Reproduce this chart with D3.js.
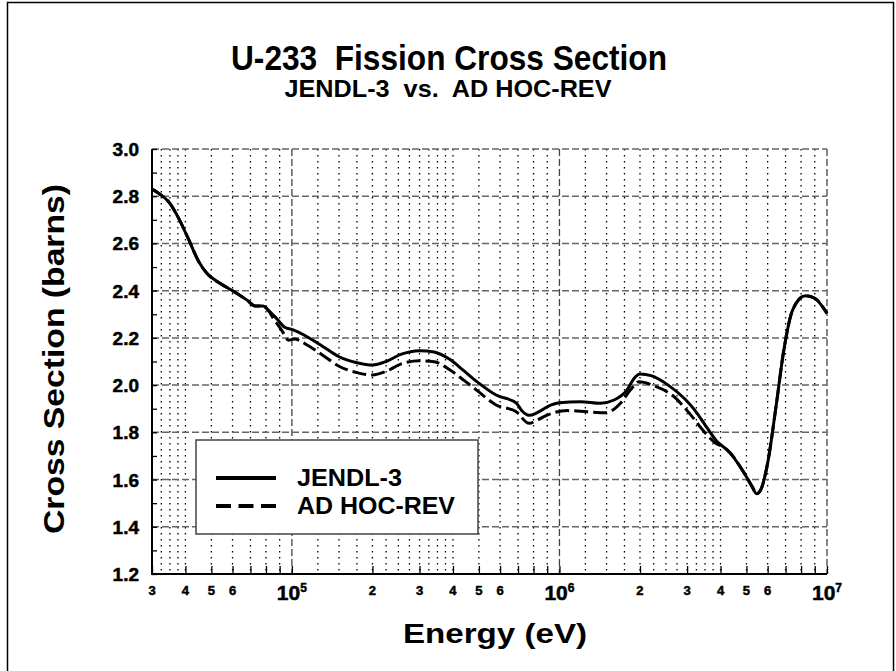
<!DOCTYPE html>
<html>
<head>
<meta charset="utf-8">
<script src="https://cdn.jsdelivr.net/npm/d3@7"></script>
<style>
  body { margin: 0; background: #fff; }
  text { font-family: "Liberation Sans", Arial, sans-serif; font-weight: bold; fill: #000; }
  .heavy { stroke: #000; stroke-width: 0.5; }
</style>
</head>
<body>
<div id="chart"></div>
<script>
// JENDL-3 (solid)
const jendlE = [3.0e4, 3.2e4, 3.5e4, 3.8e4, 4.1e4, 4.5e4, 4.8e4, 5.4e4, 6.0e4, 6.8e4, 7.3e4, 7.8e4, 8.15e4, 8.8e4, 9.4e4,
    1.0e5, 1.14e5, 1.3e5, 1.5e5, 1.75e5, 2.0e5, 2.25e5, 2.55e5, 3.0e5, 3.4e5, 3.9e5, 4.4e5, 4.9e5, 5.8e5, 6.9e5, 7.25e5, 7.7e5, 8.25e5, 9.0e5,
    1.0e6, 1.2e6, 1.42e6, 1.6e6, 1.79e6, 1.9e6, 2.0e6, 2.2e6, 2.55e6, 2.95e6, 3.2e6, 3.5e6, 3.85e6, 4.35e6, 4.9e6, 5.25e6, 5.45e6, 5.65e6,
    6.0e6, 6.45e6, 6.9e6, 7.45e6, 8.3e6, 9.0e6, 1.0e7];
const jendlXS = [2.83, 2.81, 2.77, 2.70, 2.62, 2.52, 2.475, 2.43, 2.40, 2.36, 2.335, 2.335, 2.318, 2.28, 2.245,
    2.236, 2.205, 2.165, 2.12, 2.095, 2.085, 2.10, 2.13, 2.146, 2.140, 2.108, 2.06, 2.016, 1.958, 1.924, 1.89, 1.872, 1.883, 1.908,
    1.925, 1.930, 1.923, 1.937, 1.98, 2.028, 2.047, 2.04, 2.00, 1.94, 1.895, 1.832, 1.766, 1.712, 1.628, 1.57, 1.54, 1.556,
    1.67, 1.91, 2.15, 2.32, 2.379, 2.368, 2.304];

// AD HOC-REV (dashed)
const adhocE = [3.0e4, 3.2e4, 3.5e4, 3.8e4, 4.1e4, 4.5e4, 4.8e4, 5.4e4, 6.0e4, 6.8e4, 7.3e4, 7.8e4, 8.15e4, 8.6e4, 9.0e4, 9.4e4, 9.7e4,
    1.02e5, 1.14e5, 1.3e5, 1.5e5, 1.75e5, 2.0e5, 2.25e5, 2.55e5, 3.0e5, 3.4e5, 3.9e5, 4.4e5, 4.9e5, 5.8e5, 6.9e5, 7.7e5, 8.25e5, 9.0e5,
    1.07e6, 1.27e6, 1.49e6, 1.69e6, 1.84e6, 1.98e6, 2.27e6, 2.68e6, 3.1e6, 3.47e6, 3.84e6, 4.1e6, 4.35e6, 4.9e6, 5.25e6, 5.45e6, 5.65e6,
    6.0e6, 6.45e6, 6.9e6, 7.45e6, 8.3e6, 9.0e6, 1.0e7];
const adhocXS = [2.83, 2.81, 2.77, 2.70, 2.62, 2.52, 2.475, 2.43, 2.40, 2.36, 2.335, 2.335, 2.318, 2.275, 2.245, 2.212, 2.19,
    2.195, 2.17, 2.128, 2.08, 2.053, 2.043, 2.058, 2.089, 2.103, 2.099, 2.064, 2.02, 1.979, 1.916, 1.887, 1.838, 1.852, 1.873,
    1.892, 1.887, 1.883, 1.923, 1.979, 2.014, 1.996, 1.951, 1.873, 1.803, 1.754, 1.738, 1.712, 1.628, 1.57, 1.54, 1.556,
    1.67, 1.91, 2.15, 2.32, 2.379, 2.368, 2.304];

const yTicks = [1.2, 1.4, 1.6, 1.8, 2.0, 2.2, 2.4, 2.6, 2.8, 3.0];
const decades = [1e5, 1e6, 1e7];
const digitTicks = [3e4, 4e4, 5e4, 6e4, 2e5, 3e5, 4e5, 5e5, 6e5, 2e6, 3e6, 4e6, 5e6, 6e6];
const gridSteps = [1.25, 1.5, 1.75, 2, 2.25, 2.5, 2.75, 3, 3.25, 3.5, 3.75, 4, 5, 6, 7, 8, 9];
const tickSteps = [2, 3, 4, 5, 6, 7, 8, 9];

const width = 896, height = 671;
const svg = d3.select("#chart").append("svg")
    .attr("width", width)
    .attr("height", height);

// outer frame
svg.append("path")
    .attr("d", "M7.5,671 V2.5 H893.5 V671")
    .attr("fill", "none")
    .attr("stroke", "#000")
    .attr("stroke-width", 1.5);

const x = d3.scaleLog().domain([3e4, 1e7]).range([152, 827]);
const y = d3.scaleLinear().domain([1.2, 3.0]).range([574, 149]);

// minor vertical grid (dotted)
let minor = [];
[1e4, 1e5, 1e6].forEach(d => gridSteps.forEach(m => minor.push(d * m)));
minor = minor.filter(v => v > 3e4 * 1.001 && v < 1e7);

svg.append("g").selectAll("line").data(minor).join("line")
    .attr("x1", d => x(d)).attr("x2", d => x(d))
    .attr("y1", y(3.0)).attr("y2", y(1.2))
    .attr("stroke", "#000")
    .attr("stroke-width", 1.3)
    .attr("stroke-dasharray", "1.5,4.5");

// decade lines (dashed)
svg.append("g").selectAll("line").data(decades).join("line")
    .attr("x1", d => x(d)).attr("x2", d => x(d))
    .attr("y1", y(3.0)).attr("y2", y(1.2))
    .attr("stroke", "#444")
    .attr("stroke-width", 1.3)
    .attr("stroke-dasharray", "7,3");

// horizontal grid (dashed gray)
svg.append("g").selectAll("line").data(yTicks.filter(v => v > 1.2)).join("line")
    .attr("x1", x(3e4)).attr("x2", x(1e7))
    .attr("y1", d => y(d)).attr("y2", d => y(d))
    .attr("stroke", "#666")
    .attr("stroke-width", 1.5)
    .attr("stroke-dasharray", "7,3");

// y axis, ticks inward every 0.1
const yAxis = d3.axisRight(y)
    .tickValues(d3.range(1.2, 3.0001, 0.1))
    .tickSize(5)
    .tickFormat("");
svg.append("g")
    .attr("transform", `translate(${x(3e4)},0)`)
    .call(yAxis)
    .call(g => g.select(".domain").attr("stroke-width", 2).attr("d", `M0,${y(3.0)}V${y(1.2)}`))
    .call(g => g.selectAll(".tick line").attr("stroke-width", 1.3));

svg.append("g").selectAll("text").data(yTicks).join("text")
    .attr("class", "heavy")
    .attr("x", 139)
    .attr("y", d => y(d) + 7)
    .attr("text-anchor", "end")
    .attr("font-size", 19)
    .text(d => d.toFixed(1));

// x axis, ticks inward
let xt = [];
[1e4, 1e5, 1e6].forEach(d => tickSteps.forEach(m => xt.push(d * m)));
xt = xt.concat(decades).filter(v => v >= 3e4 && v <= 1e7);
const xAxis = d3.axisTop(x)
    .tickValues(xt)
    .tickSize(8)
    .tickFormat("");
svg.append("g")
    .attr("transform", `translate(0,${y(1.2)})`)
    .call(xAxis)
    .call(g => g.select(".domain").attr("stroke-width", 2).attr("d", `M${x(3e4) - 1},0H${x(1e7)}`))
    .call(g => g.selectAll(".tick line").attr("stroke-width", 1.3));

svg.append("g").selectAll("text").data(digitTicks).join("text")
    .attr("class", "heavy")
    .attr("x", d => x(d))
    .attr("y", 595)
    .attr("text-anchor", "middle")
    .attr("font-size", 13)
    .text(d => String(d).charAt(0));

const dec = svg.append("g").selectAll("text").data(decades).join("text")
    .attr("class", "heavy")
    .attr("x", d => x(d))
    .attr("y", 600)
    .attr("text-anchor", "middle")
    .attr("font-size", 21);
dec.append("tspan").text("10");
dec.append("tspan")
    .attr("font-size", 12)
    .attr("dy", -8)
    .text(d => Math.round(Math.log10(d)));

// curves
const line = d3.line()
    .x(d => x(d[0]))
    .y(d => y(d[1]))
    .curve(d3.curveMonotoneX);

svg.append("path")
    .datum(jendlE.map((e, i) => [e, jendlXS[i]]))
    .attr("d", line)
    .attr("fill", "none")
    .attr("stroke", "#000")
    .attr("stroke-width", 3);

svg.append("path")
    .datum(adhocE.map((e, i) => [e, adhocXS[i]]))
    .attr("d", line)
    .attr("fill", "none")
    .attr("stroke", "#000")
    .attr("stroke-width", 3)
    .attr("stroke-dasharray", "14,5");

// legend
const lg = svg.append("g");
lg.append("rect")
    .attr("x", 196).attr("y", 440)
    .attr("width", 282).attr("height", 94)
    .attr("fill", "#fff")
    .attr("stroke", "#444")
    .attr("stroke-width", 1.5);
lg.append("line")
    .attr("x1", 216).attr("x2", 276).attr("y1", 478).attr("y2", 478)
    .attr("stroke", "#000").attr("stroke-width", 4);
lg.append("line")
    .attr("x1", 216).attr("x2", 276).attr("y1", 506).attr("y2", 506)
    .attr("stroke", "#000").attr("stroke-width", 4)
    .attr("stroke-dasharray", "15,7.5");
lg.append("text")
    .attr("x", 297).attr("y", 486)
    .attr("font-size", 23)
    .attr("textLength", 105).attr("lengthAdjust", "spacingAndGlyphs")
    .text("JENDL-3");
lg.append("text")
    .attr("x", 297).attr("y", 514)
    .attr("font-size", 23)
    .attr("textLength", 158).attr("lengthAdjust", "spacingAndGlyphs")
    .text("AD HOC-REV");

// titles
svg.append("text")
    .attr("x", 449).attr("y", 70)
    .attr("text-anchor", "middle")
    .attr("font-size", 35)
    .attr("textLength", 436).attr("lengthAdjust", "spacingAndGlyphs")
    .attr("xml:space", "preserve")
    .text("U-233  Fission Cross Section");
svg.append("text")
    .attr("x", 448).attr("y", 97)
    .attr("text-anchor", "middle")
    .attr("font-size", 24)
    .attr("textLength", 327).attr("lengthAdjust", "spacingAndGlyphs")
    .attr("xml:space", "preserve")
    .text("JENDL-3  vs.  AD HOC-REV");

svg.append("text")
    .attr("x", 495).attr("y", 643)
    .attr("text-anchor", "middle")
    .attr("font-size", 28)
    .attr("textLength", 184).attr("lengthAdjust", "spacingAndGlyphs")
    .text("Energy (eV)");

svg.append("text")
    .attr("transform", "translate(64,359) rotate(-90)")
    .attr("text-anchor", "middle")
    .attr("font-size", 30)
    .attr("textLength", 350).attr("lengthAdjust", "spacingAndGlyphs")
    .text("Cross Section (barns)");
</script>
</body>
</html>
